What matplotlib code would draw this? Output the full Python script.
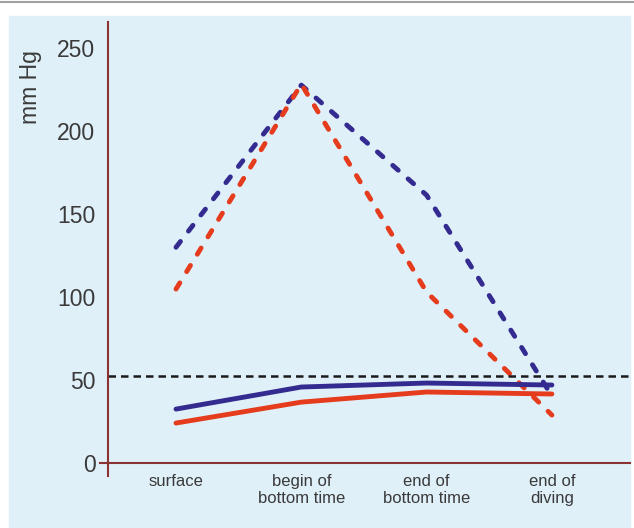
import matplotlib.pyplot as plt
from matplotlib.patches import Rectangle

# data
categories = ['surface', 'begin of\nbottom time', 'end of\nbottom time', 'end of\ndiving']
blue_solid = [32.5, 45.8, 48.2, 47.0]
red_solid = [24.1, 36.7, 42.8, 41.6]
blue_dashed = [130, 227.7, 161.4, 40.4]
red_dashed = [104.8, 228.3, 103, 28.9]
threshold = 52.4
yticks = [0, 50, 100, 150, 200, 250]

BLUE = '#332b8f'
RED = '#e63c1e'
AXIS = '#8b3232'
TEXT = '#3a3a3a'
BG = '#e0f0f9'

plt.rcParams['font.family'] = ['Liberation Sans', 'DejaVu Sans']

fig = plt.figure(figsize=(6.34, 5.28), dpi=100)
fig.patch.set_facecolor('white')
# light blue panel and grey rule at the top
fig.add_artist(Rectangle((9 / 634, 0), 621 / 634, 1 - 16 / 528,
                         transform=fig.transFigure, color=BG, zorder=0))
fig.add_artist(plt.Line2D([0, 1], [1 - 1.5 / 528] * 2, transform=fig.transFigure,
                          color='#a0a0a0', lw=1.5))

ax = fig.add_axes([100 / 634, 1 - 476 / 528, 530 / 634, 454 / 528])
ax.set_facecolor('none')

x = list(range(len(categories)))
px = 125.3  # pixels per category step
x0 = 176
ax.set_xlim((100 - x0) / px, (630 - x0) / px)
ax.set_ylim(-7.8, 265.7)

dash = dict(lw=3.5, dashes=(1.5, 2.7), dash_capstyle='round', solid_capstyle='round')
ax.plot(x, blue_dashed, color=BLUE, **dash)
ax.plot(x, red_dashed, color=RED, **dash)
ax.plot(x, blue_solid, color=BLUE, lw=3.5, solid_capstyle='round')
ax.plot(x, red_solid, color=RED, lw=3.5, solid_capstyle='round')
ax.axhline(threshold, xmin=8 / 530, color='#1a1a1a', lw=1.8, dashes=(3, 2))

for s in ['top', 'right']:
    ax.spines[s].set_visible(False)
ax.spines['left'].set_position(('data', (108 - x0) / px))
ax.spines['bottom'].set_position(('data', 0))
for s in ['left', 'bottom']:
    ax.spines[s].set_color(AXIS)
    ax.spines[s].set_linewidth(1.5)

ax.set_yticks(yticks)
ax.tick_params(axis='y', length=0, pad=9, labelsize=16.5, labelcolor=TEXT)
ax.set_xticks(x)
ax.set_xticklabels(categories, linespacing=1.15)
ax.tick_params(axis='x', length=0, pad=8, labelsize=12, labelcolor=TEXT)

fig.text(30 / 634, 1 - 87 / 528, 'mm Hg', rotation=90, ha='center', va='center',
         fontsize=16.5, color=TEXT)

fig.savefig('out.png', dpi=100)
